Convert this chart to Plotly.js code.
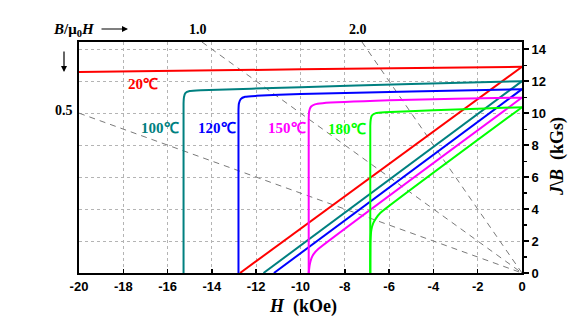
<!DOCTYPE html>
<html>
<head>
<meta charset="utf-8">
<script src="https://cdn.plot.ly/plotly-3.0.1.min.js"></script>
<style>html,body{margin:0;padding:0;background:#fff;}#chart{width:585px;height:332px;}</style>
</head>
<body>
<div id="chart"></div>
<script>
// ---- data ----
// 20 °C
const H_J20 = [-20, -10, 0];
const J20   = [12.58, 12.74, 12.9];
const H_B20 = [-12.73, 0];
const B20   = [0, 12.9];
// 100 °C
const H_J100 = [-15.28, -15.28, -15.26, -15.2, -15.0, -14.5, -10, -5, 0];
const J100   = [0, 10.6, 11.0, 11.25, 11.38, 11.43, 11.62, 11.82, 12.0];
const H_B100 = [-11.67, 0];
const B100   = [0, 12.0];
// 120 °C
const H_J120 = [-12.8, -12.8, -12.78, -12.7, -12.5, -12.0, -10, -5, 0];
const J120   = [0, 10.2, 10.6, 10.88, 11.02, 11.08, 11.2, 11.35, 11.5];
const H_B120 = [-11.2, 0];
const B120   = [0, 11.5];
// 150 °C
const H_J150 = [-9.63, -9.63, -9.61, -9.53, -9.35, -9.0, -6, -3, 0];
const J150   = [0, 9.6, 10.1, 10.4, 10.55, 10.62, 10.8, 10.9, 10.97];
const H_B150 = [-9.63, -9.61, -9.57, -9.5, -9.4, -9.2, 0];
const B150   = [0, 0.25, 0.6, 0.95, 1.2, 1.5, 10.97];
// 180 °C
const H_J180 = [-6.85, -6.85, -6.83, -6.78, -6.6, -6.2, -4, -2, 0];
const J180   = [0, 9.2, 9.6, 9.85, 10.0, 10.06, 10.18, 10.28, 10.37];
const H_B180 = [-6.85, -6.84, -6.8, -6.72, -6.6, -6.4, 0];
const B180   = [0, 2.0, 2.7, 3.1, 3.4, 3.75, 10.37];
// load lines (permeance coefficient B/μ0H), endpoints
const loadH = [[-20, 0], [-14.45, 0], [-7.225, 0]];
const loadB = [[10, 0], [14.45, 0], [14.45, 0]];
const loadLabels = ['0.5', '1.0', '2.0'];
// curve labels
const tempLabels = ['20℃', '100℃', '120℃', '150℃', '180℃'];
const colors = ['#ff0000', '#008080', '#0000ff', '#ff00ff', '#00ff00'];
const xTicks = [-20, -18, -16, -14, -12, -10, -8, -6, -4, -2, 0];
const xTickText = ['-20', '-18', '-16', '-14', '-12', '-10', '-8', '-6', '-4', '-2', '0'];
const yTicks = [0, 2, 4, 6, 8, 10, 12, 14];

const traces = [];
for (let i = 0; i < loadH.length; i++) {
  traces.push({x: loadH[i], y: loadB[i], mode: 'lines', hoverinfo: 'skip',
    line: {color: '#7a7a7a', width: 1, dash: '6px,5px'}, showlegend: false});
}
const curves = [
  [H_J20, J20, H_B20, B20],
  [H_J100, J100, H_B100, B100],
  [H_J120, J120, H_B120, B120],
  [H_J150, J150, H_B150, B150],
  [H_J180, J180, H_B180, B180]
];
curves.forEach((c, i) => {
  traces.push({x: c[0], y: c[1], mode: 'lines', line: {color: colors[i], width: 2, shape: 'spline', smoothing: 0.4}, showlegend: false});
  traces.push({x: c[2], y: c[3], mode: 'lines', line: {color: colors[i], width: 2, shape: 'spline', smoothing: 0.4}, showlegend: false});
});

const serif = 'Liberation Serif, Times New Roman, serif';
const sans = 'Liberation Sans, Arial, sans-serif';
const L = 79, T = 42, W = 443, Hh = 231;
function px(x) { return (x - L) / W; }
function py(y) { return (T + Hh - y) / Hh; }

const labelPos = [[-17.1, 11.85], [-16.35, 9.1], [-13.75, 9.1], [-10.6, 9.05], [-7.9, 9.0]];
const annotations = [];
function txt(o) { return Object.assign({showarrow: false, xanchor: 'center', yanchor: 'middle'}, o); }
tempLabels.forEach((t, i) => {
  annotations.push(txt({x: labelPos[i][0], y: labelPos[i][1], xref: 'x', yref: 'y', text: t,
    font: {family: serif, size: 15, color: colors[i], weight: 'bold'}}));
});
annotations.push(txt({x: -14.65, y: py(30), xref: 'x', yref: 'paper', text: loadLabels[1],
  font: {family: serif, size: 14, color: '#000', weight: 'bold'}}));
annotations.push(txt({x: -7.4, y: py(30), xref: 'x', yref: 'paper', text: loadLabels[2],
  font: {family: serif, size: 14, color: '#000', weight: 'bold'}}));
annotations.push(txt({x: px(75), y: py(110), xref: 'paper', yref: 'paper', xanchor: 'right', text: loadLabels[0],
  font: {family: serif, size: 14, color: '#000', weight: 'bold'}}));
annotations.push(txt({x: px(51), y: py(30), xref: 'paper', yref: 'paper', xanchor: 'left', text: '<i>B</i>/μ<sub>0</sub><i>H</i>',
  font: {family: serif, size: 15, color: '#000', weight: 'bold'}}));
annotations.push({x: px(128), y: py(29), xref: 'paper', yref: 'paper', ax: -28, ay: 0, text: '', showarrow: true,
  arrowhead: 2, arrowsize: 1, arrowwidth: 1.2, arrowcolor: '#000'});
annotations.push({x: px(64), y: py(72), xref: 'paper', yref: 'paper', ax: 0, ay: -22, text: '', showarrow: true,
  arrowhead: 2, arrowsize: 1, arrowwidth: 1.2, arrowcolor: '#000'});
annotations.push(txt({x: px(303), y: py(306), xref: 'paper', yref: 'paper', text: '<i>H</i>  (kOe)',
  font: {family: serif, size: 18, color: '#000', weight: 'bold'}}));
annotations.push(txt({x: px(557), y: py(157), xref: 'paper', yref: 'paper', text: '<i>J</i>\\<i>B</i>  (kGs)', textangle: -90,
  font: {family: serif, size: 18, color: '#000', weight: 'bold'}}));

const layout = {
  width: 585, height: 332,
  margin: {l: L, r: 585 - L - W, t: T, b: 332 - T - Hh, pad: 0},
  paper_bgcolor: '#fff', plot_bgcolor: '#fff',
  showlegend: false,
  xaxis: {range: [-20, 0], tickvals: xTicks, ticktext: xTickText, ticks: 'inside', ticklen: 4, tickwidth: 1.5, tickcolor: '#000',
    showline: true, linecolor: '#000', linewidth: 2, mirror: true, zeroline: false,
    showgrid: true, gridcolor: '#b4b4b4', griddash: 'dot', gridwidth: 1,
    tickfont: {family: sans, size: 13, color: '#000', weight: 'bold'}},
  yaxis: {range: [0, 14.45], side: 'right', tickvals: yTicks, ticks: 'outside', ticklen: 5, tickwidth: 1.5, tickcolor: '#000',
    minor: {dtick: 1, ticks: 'outside', ticklen: 3, tickwidth: 1.2, tickcolor: '#000', showgrid: false},
    showline: true, linecolor: '#000', linewidth: 2, mirror: true, zeroline: false,
    showgrid: true, gridcolor: '#b4b4b4', griddash: 'dot', gridwidth: 1,
    tickfont: {family: sans, size: 13, color: '#000', weight: 'bold'}},
  annotations: annotations
};
Plotly.newPlot('chart', traces, layout, {staticPlot: true, displayModeBar: false});
</script>
</body>
</html>
